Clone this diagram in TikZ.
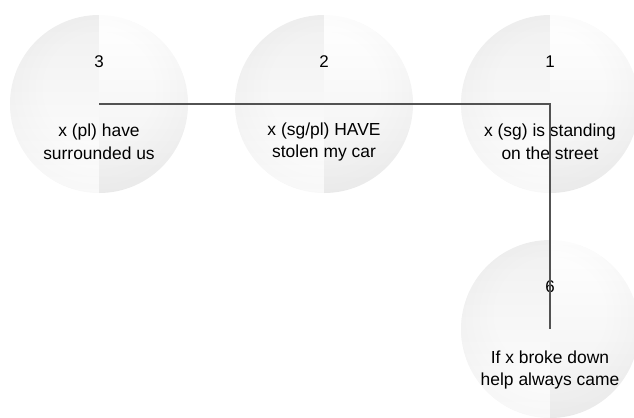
\documentclass[tikz,border=0pt]{standalone}
\usepackage{fontspec}
\setmainfont{Liberation Sans}
\usetikzlibrary{fadings}
\pgfdeclareradialshading{ball}{\pgfpoint{0bp}{6bp}}{%
  color(0bp)=(white);
  color(15bp)=(white);
  color(35bp)=(black!4);
  color(50bp)=(black!12);
  color(60bp)=(black!12)}
\tikzfading[name=topdark, top color=transparent!0, bottom color=transparent!100]
\tikzfading[name=bottomdark, top color=transparent!100, bottom color=transparent!0]
\tikzset{
  ball/.style={circle, minimum size=178bp, inner sep=0pt, shading=ball},
  num/.style={font=\fontsize{17}{19}\selectfont, text=black},
  lbl/.style={font=\fontsize{17.5}{23}\selectfont, align=center, text=black},
  conn/.style={draw=black!68, line width=1.1bp}
}
\begin{document}
\begin{tikzpicture}[x=1bp,y=-1bp]
\useasboundingbox (0,0) rectangle (634,417);
\foreach \nm/\cx/\cy in {c3/99/104, c2/324/104, c1/550/104, c6/550/329}{
  \node[ball] (\nm) at (\cx,\cy) {};
  \begin{scope}
    \clip (\cx,\cy) circle (89);
    \fill[black, opacity=0.06, path fading=topdark] (\cx-90,\cy-90) rectangle (\cx,\cy+90);
    \fill[black, opacity=0.06, path fading=bottomdark] (\cx,\cy-90) rectangle (\cx+90,\cy+90);
  \end{scope}
}
\node[num] (n3) at ([yshift=42bp]c3.center) {3};
\node[num] (n2) at ([yshift=42bp]c2.center) {2};
\node[num] (n1) at ([yshift=42bp]c1.center) {1};
\node[num] (n6) at ([yshift=42bp]c6.center) {6};
\node[lbl] (t3) at ([yshift=-38bp]c3.center) {x (pl) have\\surrounded us};
\node[lbl] (t2) at ([yshift=-38bp]c2.center) {x (sg/pl) HAVE\\stolen my car};
\node[lbl] (t1) at ([yshift=-38bp]c1.center) {x (sg) is standing\\on the street};
\node[lbl] (t6) at ([yshift=-41bp]c6.center) {If x broke down\\help always came};
\draw[conn] (c3.center) -| (c6.center);
\end{tikzpicture}
\end{document}
